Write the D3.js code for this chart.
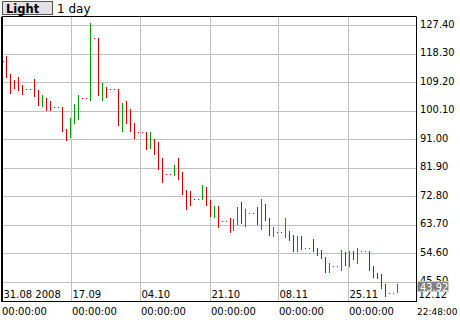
<!DOCTYPE html>
<html><head><meta charset="utf-8">
<script src="https://cdn.jsdelivr.net/npm/d3@7/dist/d3.min.js"></script>
<style>body{margin:0;background:#fff}svg{display:block}</style>
</head><body><svg id="c" width="460" height="320"></svg>
<script>
// one bar per calendar day starting 31.08.2008
const highs = [115.8,117.5,111.9,109.9,110.8,108.3,106.9,106.9,110.2,106.7,
105.1,104.1,103.2,101.1,101.1,101.2,94.2,97.7,102.2,105.1,
104.0,104.0,128.0,123.2,123.3,108.9,107.6,107.0,107.0,107.0,
102.5,103.2,100.6,96.1,93.2,93.2,93.3,93.3,91.0,90.1,
85.0,79.8,79.8,82.7,85.0,80.6,74.9,74.5,71.8,71.8,
76.4,75.7,71.7,69.7,69.7,64.8,64.8,65.9,65.6,69.4,
71.0,68.8,67.5,67.5,69.4,72.0,70.4,65.9,63.0,61.2,
61.2,65.9,61.8,60.4,60.1,60.1,56.3,56.3,59.1,56.1,
55.6,53.4,51.5,50.5,50.5,55.6,55.0,55.3,55.3,56.2,
55.2,55.2,55.2,50.5,48.3,47.9,44.8,41.9,41.9,44.8];
const lows = [115.8,110.6,105.5,107.0,106.3,105.1,106.9,106.9,104.4,101.7,
101.2,100.1,100.1,101.1,101.1,93.4,90.5,91.4,95.9,97.1,
104.0,104.0,103.2,123.2,104.8,103.2,104.2,107.0,107.0,95.1,
93.4,95.9,93.4,91.1,93.2,93.2,87.6,87.9,86.0,81.0,
77.1,79.8,79.8,79.3,78.0,73.3,68.5,69.7,71.8,71.8,
71.7,69.7,66.2,65.9,62.7,64.8,64.8,61.1,61.8,63.7,
64.0,63.0,67.5,67.5,63.7,62.1,65.0,60.2,59.9,61.2,
61.2,59.5,58.6,55.1,55.1,55.5,56.3,56.3,55.1,53.8,
52.7,48.3,48.3,50.5,50.5,48.8,50.5,50.2,52.4,51.1,
55.2,55.2,48.8,46.7,46.4,43.2,40.6,41.9,41.9,41.9];
const direction = ["d","d","d","d","d","d","d","d","d","d",
"u","d","d","d","d","d","d","u","u","u",
"d","d","u","d","d","u","d","d","d","d",
"u","d","d","d","d","d","d","u","d","d",
"d","d","d","u","d","d","d","d","d","d",
"u","d","d","u","d","d","d","d","u","u",
"d","u","d","d","d","u","d","d","u","d",
"d","u","d","d","u","d","d","d","d","d",
"d","d","u","d","d","u","d","u","d","u",
"d","d","d","d","d","d","d","d","d","u"];
const yTicks = [127.40,118.30,109.20,100.10,91.00,81.90,72.80,63.70,54.60,45.50];
const xTickDates = ["31.08 2008","17.09","04.10","21.10","08.11","25.11","12.12"];
const xTickTimes = ["00:00:00","00:00:00","00:00:00","00:00:00","00:00:00","00:00:00","22:48:00"];
const lastPrice = 43.92;
const periodLabel = "1 day";
const styleLabel = "Light";
const startTime = Date.UTC(2008,7,31);
const endTime = Date.UTC(2008,11,12,22,48);

const svg = d3.select("#c");
const L = 2.5, R = 416.5, T = 16.5, B = 301.5;
const x = d3.scaleUtc().domain([new Date(startTime), new Date(endTime)]).range([L, R]);
const y = d3.scaleLinear().domain([45.5, 127.4]).range([281.7, 25]);

const dates = highs.map((_, i) => d3.utcDay.offset(new Date(startTime), i));
const bars = highs.map((h, i) => ({date: dates[i], high: h, low: lows[i], dir: direction[i]}));

// grid
const grid = svg.append("g");
grid.selectAll("line.h").data(yTicks).join("line")
  .attr("x1", L).attr("x2", R)
  .attr("y1", d => Math.round(y(d)) + 0.5).attr("y2", d => Math.round(y(d)) + 0.5)
  .attr("stroke", "#c0c0c0").attr("stroke-width", 1);
const tickTimes = xTickDates.map((_, k) => new Date(startTime + (endTime - startTime) * k / (xTickDates.length - 1)));
grid.selectAll("line.v").data(tickTimes.slice(1, -1)).join("line")
  .attr("y1", T).attr("y2", B)
  .attr("x1", d => Math.round(x(d)) + 0.5).attr("x2", d => Math.round(x(d)) + 0.5)
  .attr("stroke", "#c0c0c0").attr("stroke-width", 1);

// bars
svg.append("g").selectAll("rect").data(bars).join("rect")
  .attr("x", d => Math.round(x(d.date)))
  .attr("y", d => Math.round(y(d.high)))
  .attr("width", 1)
  .attr("height", d => Math.max(1, Math.round(y(d.low)) - Math.round(y(d.high))))
  .attr("fill", d => d.dir === "u" ? "#009900" : "#cc0000");

// frame
svg.append("line").attr("x1", 2).attr("x2", 2).attr("y1", T).attr("y2", B + 0.5).attr("stroke", "#000").attr("stroke-width", 2);
svg.append("line").attr("x1", L).attr("x2", R).attr("y1", T).attr("y2", T).attr("stroke", "#000");
svg.append("line").attr("x1", R).attr("x2", R).attr("y1", T).attr("y2", B).attr("stroke", "#000");
svg.append("line").attr("x1", 1).attr("x2", R + 0.5).attr("y1", B).attr("y2", B).attr("stroke", "#000");

// y labels
const yFont = "'Liberation Sans Narrow','Arial Narrow','DejaVu Sans Condensed',sans-serif";
svg.append("g").selectAll("text").data(yTicks).join("text")
  .attr("x", 420).attr("y", d => y(d) + 2.5)
  .attr("font-family", yFont).attr("font-size", 11).attr("fill", "#000")
  .text(d => d.toFixed(2));

// x labels
const xFont = "'DejaVu Sans',sans-serif";
const xl = svg.append("g");
const last = xTickDates.length - 1;
xl.selectAll("text.d").data(tickTimes).join("text")
  .attr("x", (d, k) => k === 0 ? 3.5 : Math.round(x(d)) + 1.5)
  .attr("y", 298)
  .attr("font-family", xFont).attr("font-size", 10).attr("fill", "#000")
  .text((d, k) => xTickDates[k]);
xl.selectAll("text.t").data(tickTimes).join("text")
  .attr("x", (d, k) => k === 0 ? 2 : (k === last ? Math.round(x(d)) : Math.round(x(d)) + 1))
  .attr("y", 315)
  .attr("font-family", xFont).attr("font-size", (d, k) => k === last ? 9 : 10).attr("fill", "#000")
  .text((d, k) => xTickTimes[k]);

// last price box
const ly = y(lastPrice);
svg.append("rect").attr("x", 417.5).attr("y", Math.round(ly) - 5.5).attr("width", 31).attr("height", 10)
  .attr("fill", "#808080").attr("stroke", "#c8c8c8");
svg.append("text").attr("x", 420).attr("y", Math.round(ly) + 3.5)
  .attr("font-family", yFont).attr("font-size", 11).attr("fill", "#fff").text(lastPrice.toFixed(2));

// header
svg.append("rect").attr("x", 2.5).attr("y", 1.5).attr("width", 50).attr("height", 13)
  .attr("fill", "#e2e2e2").attr("stroke", "#555");
svg.append("text").attr("x", 6).attr("y", 12.5)
  .attr("font-family", "'DejaVu Sans',sans-serif").attr("font-weight", "bold").attr("font-size", 11.5)
  .text(styleLabel);
svg.append("text").attr("x", 57).attr("y", 12.5)
  .attr("font-family", "'DejaVu Sans',sans-serif").attr("font-size", 12)
  .text(periodLabel);
</script></body></html>
